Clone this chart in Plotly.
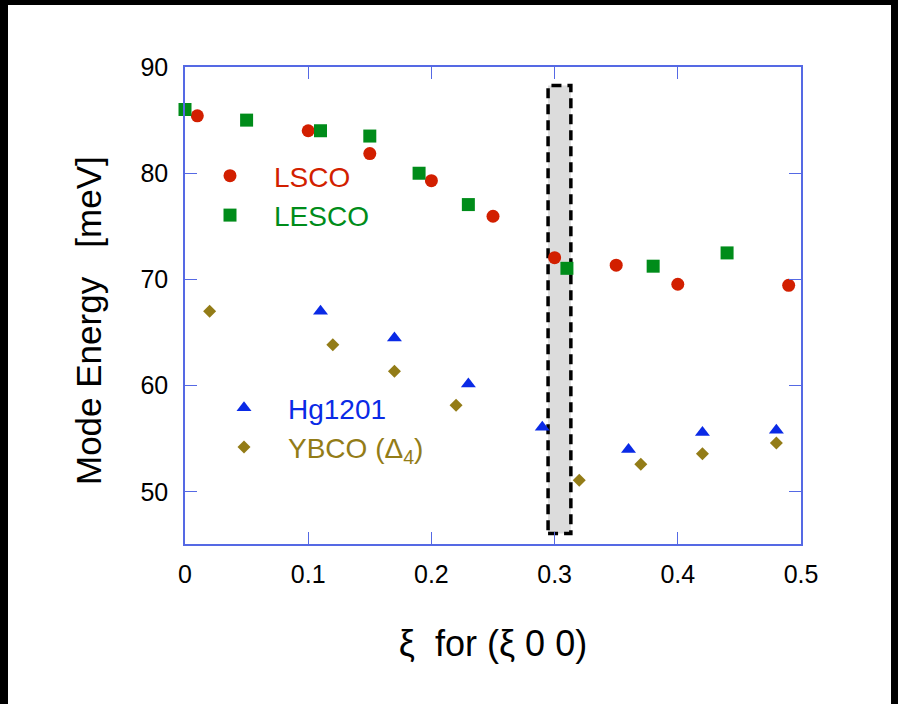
import plotly.graph_objects as go

# ---------------- data ----------------
lsco_x = [0.01, 0.10, 0.15, 0.20, 0.25, 0.30, 0.35, 0.40, 0.49]
lsco_y = [85.4, 84.0, 81.85, 79.3, 75.95, 72.05, 71.35, 69.55, 69.45]

lesco_x = [0.0, 0.05, 0.11, 0.15, 0.19, 0.23, 0.31, 0.38, 0.44]
lesco_y = [86.0, 85.0, 84.0, 83.5, 80.0, 77.05, 71.05, 71.25, 72.5]

hg_x = [0.11, 0.17, 0.23, 0.29, 0.36, 0.42, 0.48]
hg_y = [67.0, 64.5, 60.15, 56.1, 54.0, 55.6, 55.8]

ybco_x = [0.02, 0.12, 0.17, 0.22, 0.32, 0.37, 0.42, 0.48]
ybco_y = [67.0, 63.85, 61.35, 58.15, 51.1, 52.6, 53.6, 54.6]

band_x = [0.2947, 0.3132]
band_y = [46.1, 88.25]

x_ticks = [0, 0.1, 0.2, 0.3, 0.4, 0.5]
x_ticklabels = ["0", "0.1", "0.2", "0.3", "0.4", "0.5"]
y_ticks = [50, 60, 70, 80, 90]
y_ticklabels = ["50", "60", "70", "80", "90"]

# ---------------- style ----------------
RED = "#d21f00"
GREEN = "#008c1a"
BLUE = "#0a2ae6"
GOLD = "#937c17"
AXIS = "rgb(85,105,228)"
FONT = "Arial, Liberation Sans, sans-serif"

W, H = 898, 704
L, R, T, B = 185, 97, 67, 160
PW, PH = W - L - R, H - T - B


def px_to_paper_x(px):
    return (px - L) / PW


def py_to_paper_y(py):
    return 1 - (py - T) / PH


fig = go.Figure()

fig.add_trace(go.Scatter(x=lsco_x, y=lsco_y, mode="markers", cliponaxis=False,
                         name=f'<span style="color:{RED}">LSCO</span>', legend="legend",
                         marker=dict(symbol="circle", size=13, color=RED)))
fig.add_trace(go.Scatter(x=lesco_x, y=lesco_y, mode="markers", cliponaxis=False,
                         name=f'<span style="color:{GREEN}">LESCO</span>', legend="legend",
                         marker=dict(symbol="square", size=13, color=GREEN)))
fig.add_trace(go.Scatter(x=hg_x, y=hg_y, mode="markers", cliponaxis=False,
                         name=f'<span style="color:{BLUE}">Hg1201</span>', legend="legend2",
                         marker=dict(symbol="triangle-up", size=13, color=BLUE)))
fig.add_trace(go.Scatter(x=ybco_x, y=ybco_y, mode="markers", cliponaxis=False,
                         name=f'<span style="color:{GOLD}">YBCO (Δ<sub>4</sub>)</span>', legend="legend2",
                         marker=dict(symbol="diamond", size=10, color=GOLD)))

shapes = [
    # white page inside the black frame
    dict(type="rect", xref="paper", yref="paper", layer="below",
         x0=px_to_paper_x(8), x1=px_to_paper_x(891),
         y0=py_to_paper_y(760), y1=py_to_paper_y(5),
         fillcolor="white", line=dict(width=0)),
    # highlighted band (drawn beneath the markers)
    dict(type="rect", xref="x", yref="y", layer="below",
         x0=band_x[0], x1=band_x[1], y0=band_y[0], y1=band_y[1],
         fillcolor="#dcdcdc", line=dict(color="black", width=3.5, dash="10px,6px")),
]

axis_common = dict(
    showgrid=False, zeroline=False, showline=True, linecolor=AXIS, linewidth=1.5,
    mirror="ticks", ticks="inside", ticklen=12, tickwidth=1.2, tickcolor=AXIS,
    tickfont=dict(family=FONT, size=25, color="black"),
)

NB = "\u00a0"

fig.update_layout(
    width=W, height=H,
    margin=dict(l=L, r=R, t=T, b=B),
    paper_bgcolor="black", plot_bgcolor="white",
    font=dict(family=FONT, color="black"),
    shapes=shapes,
    xaxis=dict(range=[0, 0.5], tickvals=x_ticks, ticktext=x_ticklabels,
               ticklabelstandoff=7,
               title=dict(text="ξ  for (ξ 0 0)", font=dict(size=36), standoff=44),
               **axis_common),
    yaxis=dict(range=[45.1, 90], tickvals=y_ticks, ticktext=y_ticklabels,
               ticklabelstandoff=10, **axis_common),
    annotations=[
        dict(text="Mode Energy" + NB * 3 + "[meV]", textangle=-90,
             xref="paper", yref="paper", x=px_to_paper_x(88), y=py_to_paper_y(321),
             xanchor="center", yanchor="middle", showarrow=False,
             font=dict(size=35, family=FONT, color="black")),
    ],
    legend=dict(x=px_to_paper_x(186), y=py_to_paper_y(151), xanchor="left", yanchor="top",
                bgcolor="rgba(0,0,0,0)", itemwidth=78, font=dict(size=28, family=FONT),
                tracegroupgap=0),
    legend2=dict(x=px_to_paper_x(200), y=py_to_paper_y(383), xanchor="left", yanchor="top",
                 bgcolor="rgba(0,0,0,0)", itemwidth=78, font=dict(size=28, family=FONT),
                 tracegroupgap=0),
    showlegend=True,
)

fig.write_html("out.html")
